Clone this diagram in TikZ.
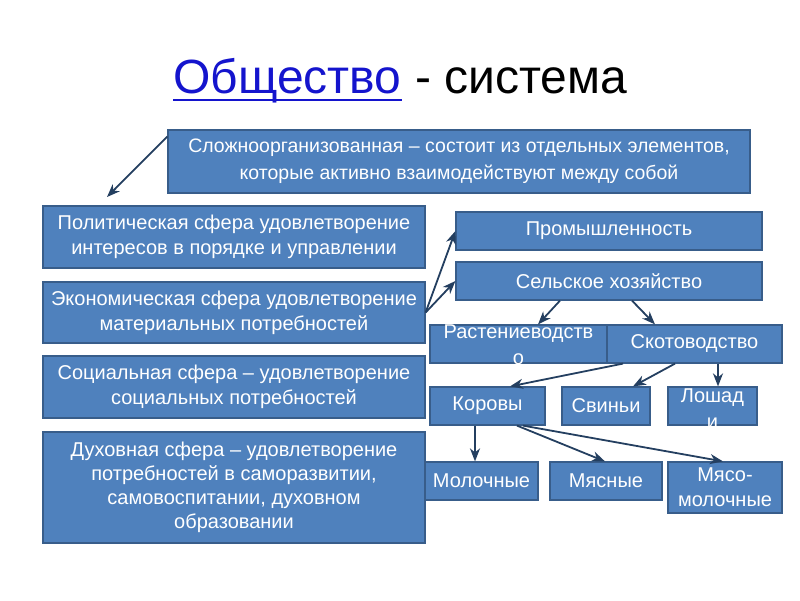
\documentclass[tikz,border=0pt]{standalone}
\usepackage{fontspec}
\setmainfont{Liberation Sans}
\usetikzlibrary{arrows.meta}
\definecolor{boxfill}{HTML}{4F81BD}
\definecolor{boxline}{HTML}{385D8A}
\definecolor{arrowc}{HTML}{243F60}
\definecolor{linkblue}{RGB}{20,20,205}
\tikzset{
  box/.style={draw=boxline, line width=1.2pt, fill=boxfill, text=white, rectangle, inner sep=0pt, align=center, font=\fontsize{20}{25}\selectfont},
  txt/.style={text=white, inner sep=0pt, align=center, font=\fontsize{20}{26}\selectfont},
  conn/.style={draw=arrowc, line width=1.8pt, -{Stealth[length=13pt,width=10pt,inset=4pt]}}
}
\begin{document}
\begin{tikzpicture}[x=1pt,y=-1pt]
\useasboundingbox (0,0) rectangle (800,600);
% title
\node[anchor=base west, inner sep=0pt, text=linkblue, font=\fontsize{48}{50}\selectfont] (t1) at (173,93) {Общество};
\node[anchor=base west, inner sep=0pt, font=\fontsize{48}{50}\selectfont] (t2) at (t1.base east) {\ - система};
\draw[linkblue, line width=2.5pt] ([yshift=-7pt]t1.base west) -- ([yshift=-7pt]t1.base east);
% boxes
\node[box, minimum width=582pt, minimum height=63pt, font=\fontsize{19.5}{27}\selectfont] (top) at (459,161.5) {Сложноорганизованная – состоит из отдельных элементов,\\которые активно взаимодействуют между собой};
\node[box, minimum width=382pt, minimum height=62pt] (pol) at (234,237) {Политическая сфера удовлетворение\\интересов в порядке и управлении};
\node[box, minimum width=382pt, minimum height=61pt] (eco) at (234,312.5) {Экономическая сфера удовлетворение\\материальных потребностей};
\node[box, minimum width=382pt, minimum height=62pt] (soc) at (234,387) {Социальная сфера – удовлетворение\\социальных потребностей};
\node[box, minimum width=382pt, minimum height=111pt, font=\fontsize{20}{24}\selectfont] (spi) at (234,487.5) {Духовная сфера – удовлетворение\\потребностей в саморазвитии,\\самовоспитании, духовном\\образовании};
\node[box, minimum width=306pt, minimum height=38pt] (prom) at (609,231) {Промышленность};
\node[box, minimum width=306pt, minimum height=38pt] (sel) at (609,281) {Сельское хозяйство};
\node[box, minimum width=177pt, minimum height=38pt] (rast) at (518.5,344) {};
\node[txt] (rastt) at (518.5,345) {Растениеводств\\о};
\node[box, minimum width=175pt, minimum height=38pt] (skot) at (694.5,344) {Скотоводство};
\node[box, minimum width=115pt, minimum height=38pt] (kor) at (487.5,406) {Коровы};
\node[box, minimum width=88pt, minimum height=38pt] (svin) at (606,406) {Свиньи};
\node[box, minimum width=89pt, minimum height=38pt] (losh) at (712.5,406) {};
\node[txt] (losht) at (712.5,408.5) {Лошад\\и};
\node[box, minimum width=113pt, minimum height=38pt] (mol) at (481.5,481) {Молочные};
\node[box, minimum width=112pt, minimum height=38pt] (myas) at (606,481) {Мясные};
\node[box, minimum width=114pt, minimum height=51pt] (mm) at (725,487.5) {Мясо-\\молочные};
% connectors
\coordinate (poltip) at (107,197);
\draw[conn] ([yshift=-7pt]top.north west) -- (poltip);
\draw[conn] (eco.east) -- (prom.west);
\draw[conn] (eco.east) -- (sel.west);
\draw[conn] ([xshift=-49pt]sel.south) -- ([xshift=19.5pt]rast.north);
\draw[conn] ([xshift=23pt]sel.south) -- ([xshift=-39.5pt]skot.north);
\draw[conn] ([xshift=-71.5pt]skot.south) -- ([xshift=22.5pt]kor.north);
\draw[conn] ([xshift=-19.5pt]skot.south) -- ([xshift=27pt]svin.north);
\draw[conn] ([xshift=23.5pt]skot.south) -- ([xshift=5.5pt]losh.north);
\draw[conn] ([xshift=-12.5pt]kor.south) -- ([xshift=-6.5pt]mol.north);
\draw[conn] ([xshift=29.5pt]kor.south) -- ([xshift=-1pt]myas.north);
\draw[conn] ([xshift=35.5pt]kor.south) -- ([xshift=-2pt]mm.north);
\end{tikzpicture}
\end{document}
